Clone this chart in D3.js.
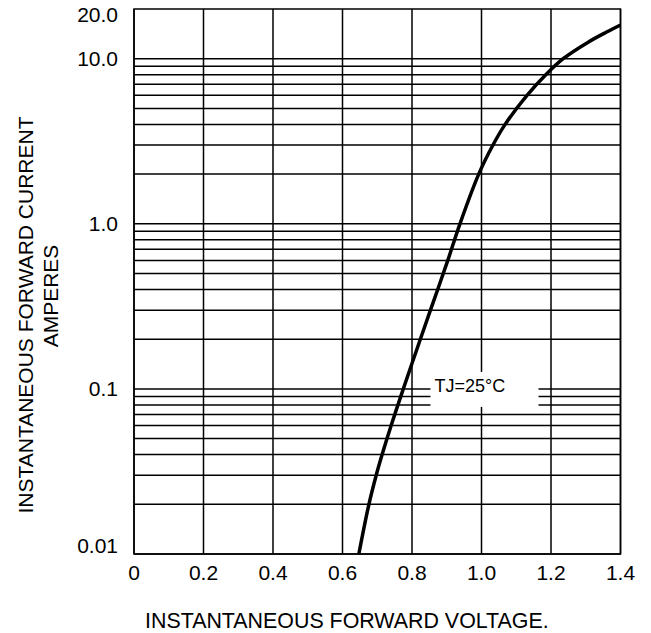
<!DOCTYPE html>
<html>
<head>
<meta charset="utf-8">
<script src="https://cdn.jsdelivr.net/npm/d3@7"></script>
<style>
  body { margin: 0; background: #fff; }
  text { font-family: Arial, "Liberation Sans", sans-serif; fill: #000; }
</style>
</head>
<body>
<div id="chart"></div>
<script>
// forward voltage (V) vs instantaneous forward current (A)
var voltage = [0.647, 0.676, 0.697, 0.714, 0.740, 0.775, 0.824, 0.853, 0.874, 0.903, 0.938, 0.992, 1.033, 1.068, 1.131, 1.185, 1.235, 1.307, 1.360, 1.400];
var current = [0.01, 0.02, 0.03, 0.04, 0.06, 0.1, 0.2, 0.3, 0.4, 0.6, 1.0, 2, 3, 4, 6, 8, 10, 12.6, 14.5, 16];

var xTicks = [0, 0.2, 0.4, 0.6, 0.8, 1.0, 1.2, 1.4];
var xTickLabels = ["0", "0.2", "0.4", "0.6", "0.8", "1.0", "1.2", "1.4"];
var yTicks = [0.01, 0.1, 1, 10, 20];
var yTickLabels = ["0.01", "0.1", "1.0", "10.0", "20.0"];
var decades = [0.01, 0.1, 1];
var mantissas = [1, 2, 3, 4, 5, 6, 7, 8, 9];

var xTitle = "INSTANTANEOUS FORWARD VOLTAGE.";
var yTitle = ["INSTANTANEOUS FORWARD CURRENT", "AMPERES"];
var note = "TJ=25°C";

var W = 651, H = 633;
// plot box in pixels (window.top is taken, so no "top" here)
var pLeft = 134, pRight = 620.5, pTop = 9, pBottom = 554;

var svg = d3.select("#chart").append("svg")
    .attr("width", W)
    .attr("height", H);

var x = d3.scaleLinear().domain([0, 1.4]).range([pLeft, pRight]);
var y = d3.scaleLog().domain([0.01, 20]).range([pBottom, pTop]);

// log grid: every 1..9 step of each decade, plus the 10 line
var gridVals = [];
decades.forEach(function (d) {
    mantissas.forEach(function (m) { gridVals.push(d * m); });
});
gridVals.push(10);

var grid = svg.append("g")
    .attr("stroke", "#000")
    .attr("stroke-width", 1.5);

grid.selectAll("line.h")
    .data(gridVals)
    .enter().append("line")
    .attr("class", "h")
    .attr("x1", pLeft).attr("x2", pRight)
    .attr("y1", function (d) { return y(d); })
    .attr("y2", function (d) { return y(d); });

grid.selectAll("line.v")
    .data(xTicks)
    .enter().append("line")
    .attr("class", "v")
    .attr("x1", function (d) { return x(d); })
    .attr("x2", function (d) { return x(d); })
    .attr("y1", pTop).attr("y2", pBottom);

// frame
svg.append("rect")
    .attr("x", pLeft).attr("y", pTop)
    .attr("width", pRight - pLeft).attr("height", pBottom - pTop)
    .attr("fill", "none")
    .attr("stroke", "#000")
    .attr("stroke-width", 1.5);

// white box behind the temperature note breaks the grid
var noteX = x(1.0), noteY = y(0.1);
svg.append("rect")
    .attr("x", noteX - 51).attr("y", noteY - 17)
    .attr("width", 108).attr("height", 35)
    .attr("fill", "#fff");
svg.append("text")
    .attr("x", noteX - 47)
    .attr("y", noteY + 3)
    .style("font-size", "18px")
    .text(note);

// curve
var line = d3.line()
    .x(function (d) { return x(d[0]); })
    .y(function (d) { return y(d[1]); })
    .curve(d3.curveCatmullRom);

svg.append("path")
    .datum(d3.zip(voltage, current))
    .attr("d", line)
    .attr("fill", "none")
    .attr("stroke", "#000")
    .attr("stroke-width", 3.5);

// x tick labels
svg.append("g").selectAll("text")
    .data(xTicks)
    .enter().append("text")
    .attr("x", function (d) { return x(d); })
    .attr("y", 580)
    .attr("text-anchor", "middle")
    .style("font-size", "21px")
    .text(function (d, i) { return xTickLabels[i]; });

// y tick labels (kept inside the frame at the ends)
svg.append("g").selectAll("text")
    .data(yTicks)
    .enter().append("text")
    .attr("x", 118)
    .attr("y", function (d) { return Math.min(Math.max(y(d), 15), 546); })
    .attr("dy", "0.35em")
    .attr("text-anchor", "end")
    .style("font-size", "21px")
    .text(function (d, i) { return yTickLabels[i]; });

// axis titles
svg.append("text")
    .attr("x", 145)
    .attr("y", 628)
    .style("font-size", "21.4px")
    .text(xTitle);

svg.append("text")
    .attr("transform", "translate(33,315) rotate(-90)")
    .attr("text-anchor", "middle")
    .style("font-size", "21px")
    .text(yTitle[0]);

svg.append("text")
    .attr("transform", "translate(58,296) rotate(-90)")
    .attr("text-anchor", "middle")
    .style("font-size", "21px")
    .text(yTitle[1]);
</script>
</body>
</html>
